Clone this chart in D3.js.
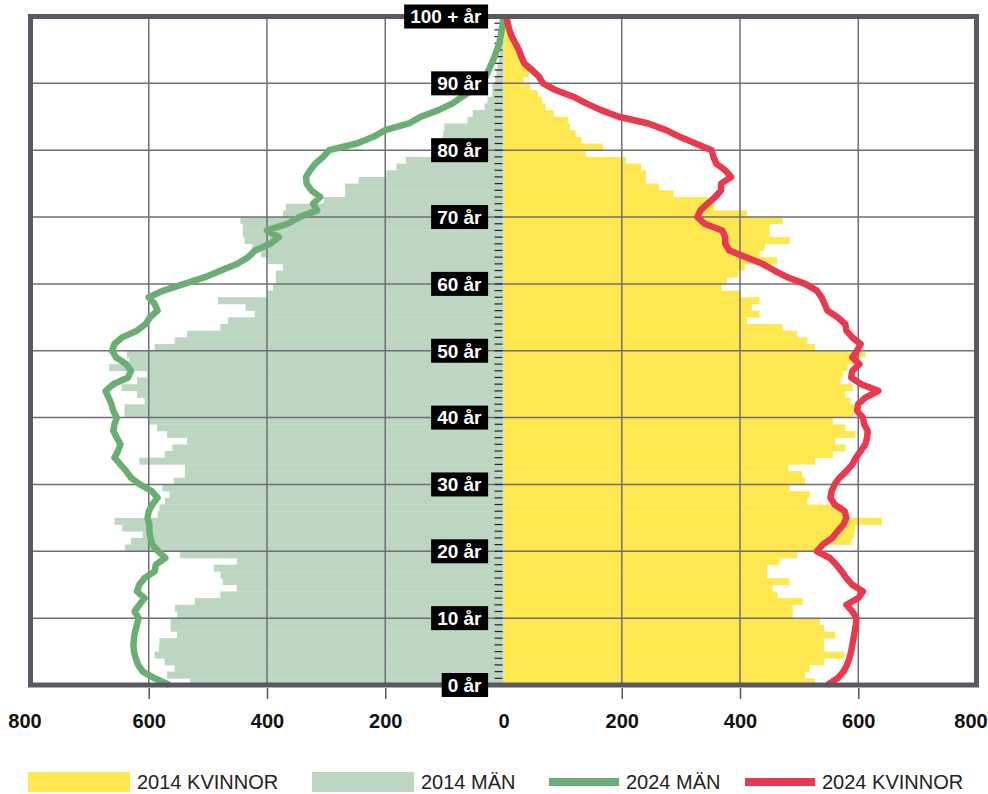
<!DOCTYPE html>
<html lang="sv">
<head>
<meta charset="utf-8">
<script src="https://cdn.jsdelivr.net/npm/d3@7"></script>
<style>
  body { margin: 0; background: #fff; }
  svg  { display: block; font-family: "Liberation Sans", Arial, sans-serif; }
</style>
</head>
<body>
<div id="chart"></div>
<script>
// Ages 0–99 for the 2014 bars, 0–100 for the 2024 lines
const BAR_AGES  = d3.range(0, 100);
const LINE_AGES = d3.range(0, 101);

const WOMEN_2014 = [
  527,510,518,542,576,542,542,561,542,535,
  489,489,506,463,455,484,446,446,467,497,
  535,589,593,595,640,574,574,514,518,484,
  510,505,482,527,557,578,561,595,578,557,
  591,595,587,578,591,570,574,582,600,612,
  527,514,497,472,412,433,420,433,400,369,
  378,397,408,463,433,442,484,450,450,472,
  412,356,344,288,263,241,241,233,207,139,
  168,132,122,113,109,85,71,65,58,45,
  34,43,43,38,30,20,20,15,6,3
];
const MEN_2014 = [
  530,569,556,573,590,583,582,552,563,563,
  552,556,522,479,451,475,479,490,451,547,
  640,630,610,645,658,585,582,573,565,577,
  558,539,539,616,573,560,535,569,586,600,
  641,641,607,620,646,620,603,667,633,637,
  590,556,535,479,466,421,436,483,400,390,
  385,385,373,398,410,425,438,441,441,445,
  373,368,304,268,268,245,198,181,165,120,
  104,104,102,100,61,52,32,27,19,19,
  14,12,10,8,6,5,3,2,1,1
];
const MEN_2024 = [
  565,590,610,618,622,625,626,625,623,620,
  617,624,616,607,620,616,607,590,588,572,
  584,594,597,599,599,602,600,594,585,595,
  615,630,638,648,658,652,648,654,660,658,
  654,660,663,668,673,660,635,630,638,655,
  662,658,645,620,605,598,585,590,600,575,
  540,505,478,450,432,420,395,380,400,365,
  345,315,322,310,325,333,334,327,318,305,
  295,248,220,200,160,140,110,86,70,52,
  38,30,25,20,15,11,7,5,3,1,
  1
];
const WOMEN_2024 = [
  548,565,575,581,585,588,590,592,594,596,
  597,590,580,600,608,590,580,572,563,552,
  530,540,556,565,575,580,577,560,553,555,
  560,568,580,590,596,604,612,615,616,610,
  608,598,600,612,634,605,588,590,602,590,
  598,604,590,580,578,565,548,543,538,530,
  510,480,458,438,410,382,375,375,370,340,
  328,333,345,358,368,368,385,375,360,355,
  352,325,298,275,245,195,165,140,118,88,
  67,60,48,35,30,26,20,14,10,7,
  5
];

const X_TICKS    = [-800, -600, -400, -200, 0, 200, 400, 600, 800];
const AGE_LABELS = [0, 10, 20, 30, 40, 50, 60, 70, 80, 90, 100];

const LEGEND = [
  { label: "2014 KVINNOR", type: "rect", color: "#ffe84f" },
  { label: "2014 MÄN",     type: "rect", color: "#bdd6c1" },
  { label: "2024 MÄN",     type: "line", color: "#6aae73" },
  { label: "2024 KVINNOR", type: "line", color: "#e83a4f" }
];

const W = 988, H = 794;
const FRAME = "#595963", GRID = "#6f6f78";

const x = d3.scaleLinear().domain([-800, 800]).range([30.5, 976.5]);
const y = d3.scaleLinear().domain([0, 100]).range([685, 16.5]);

const svg = d3.select("#chart").append("svg")
  .attr("width", W).attr("height", H);

// 2014 bars
svg.append("g").selectAll("rect").data(BAR_AGES).join("rect")
  .attr("x", x(0))
  .attr("y", a => y(a + 1))
  .attr("width", a => x(WOMEN_2014[a]) - x(0))
  .attr("height", a => y(a) - y(a + 1) + 0.3)
  .attr("fill", "#ffe84f");

svg.append("g").selectAll("rect").data(BAR_AGES).join("rect")
  .attr("x", a => x(-MEN_2014[a]))
  .attr("y", a => y(a + 1))
  .attr("width", a => x(0) - x(-MEN_2014[a]))
  .attr("height", a => y(a) - y(a + 1) + 0.3)
  .attr("fill", "#bdd6c1");

// Grid
const grid = svg.append("g").attr("stroke", GRID).attr("stroke-width", 1.5);
grid.selectAll("line.v").data([-600, -400, -200, 200, 400, 600]).join("line")
  .attr("class", "v")
  .attr("x1", d => x(d)).attr("x2", d => x(d))
  .attr("y1", y(100)).attr("y2", y(0));
grid.selectAll("line.h").data(d3.range(10, 100, 10)).join("line")
  .attr("class", "h")
  .attr("x1", x(-800)).attr("x2", x(800))
  .attr("y1", d => y(d)).attr("y2", d => y(d));

// Year ticks along the centre
svg.append("g").attr("stroke", "#222").attr("stroke-width", 1.2)
  .selectAll("line").data(d3.range(1, 100)).join("line")
  .attr("x1", x(0) - 9).attr("x2", x(0) - 1)
  .attr("y1", d => y(d)).attr("y2", d => y(d));

// 2024 lines
const line = d3.line().y((_, i) => y(LINE_AGES[i]));

svg.append("path")
  .datum(MEN_2024)
  .attr("fill", "none")
  .attr("stroke", "#6aae73")
  .attr("stroke-width", 6.5)
  .attr("stroke-linejoin", "round")
  .attr("d", line.x(d => x(-d)));

svg.append("path")
  .datum(WOMEN_2024)
  .attr("fill", "none")
  .attr("stroke", "#e83a4f")
  .attr("stroke-width", 6.5)
  .attr("stroke-linejoin", "round")
  .attr("d", line.x(d => x(d)));

// Frame
svg.append("rect")
  .attr("x", x(-800)).attr("y", y(100))
  .attr("width", x(800) - x(-800)).attr("height", y(0) - y(100))
  .attr("fill", "none").attr("stroke", FRAME).attr("stroke-width", 5);

// Bottom axis
const axis = svg.append("g")
  .attr("transform", `translate(0,${y(0) + 3})`)
  .call(d3.axisBottom(x).tickValues(X_TICKS).tickSize(11).tickFormat(d => Math.abs(d)));
axis.select(".domain").remove();
axis.selectAll(".tick line")
  .attr("stroke", "#555").attr("stroke-width", 1.5)
  .style("display", d => (d === 0 || Math.abs(d) === 800) ? "none" : null);
axis.selectAll(".tick text")
  .attr("y", 26)
  .attr("dy", "0.71em")
  .style("font-family", "'Liberation Sans', Arial, sans-serif")
  .style("font-size", "20px").style("font-weight", "bold").style("fill", "#111")
  .attr("dx", d => d === -800 ? -6 : d === 800 ? -6 : 0);

// Age labels
const labels = svg.append("g").selectAll("g").data(AGE_LABELS).join("g")
  .attr("transform", d => `translate(${x(0) - 22},${y(d)})`);
labels.append("text")
  .attr("text-anchor", "end")
  .attr("dy", "0.36em")
  .attr("fill", "#fff")
  .style("font-size", "19px").style("font-weight", "bold")
  .text(d => d === 100 ? "100 + år" : `${d} år`);
labels.each(function() {
  const g = d3.select(this);
  const b = g.select("text").node().getBBox();
  g.insert("rect", "text")
    .attr("x", b.x - 6).attr("y", -12)
    .attr("width", b.width + 12).attr("height", 24)
    .attr("fill", "#000");
});

// Legend
const legend = svg.append("g").attr("transform", "translate(0,782)");
const LEG_X = [28, 312, 549, 745];
LEGEND.forEach((d, i) => {
  const g = legend.append("g").attr("transform", `translate(${LEG_X[i]},0)`);
  if (d.type === "rect") {
    g.append("rect").attr("x", 0).attr("y", -10).attr("width", 102).attr("height", 20)
      .attr("fill", d.color);
  } else {
    g.append("line").attr("x1", 0).attr("x2", 70).attr("y1", 0).attr("y2", 0)
      .attr("stroke", d.color).attr("stroke-width", 8);
  }
  g.append("text")
    .attr("x", d.type === "rect" ? 109 : 77)
    .attr("dy", "0.36em")
    .attr("fill", "#222")
    .style("font-size", "20px")
    .text(d.label);
});
</script>
</body>
</html>
